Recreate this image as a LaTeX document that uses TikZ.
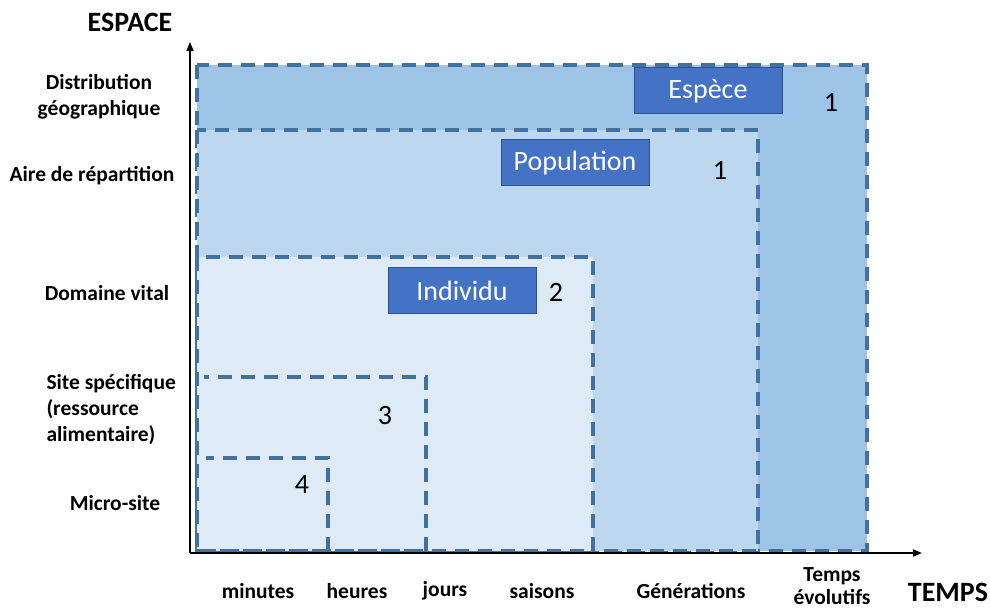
\documentclass[tikz,border=0pt]{standalone}
\usepackage{fontspec}
\setmainfont{Carlito}
\usetikzlibrary{arrows.meta}

\definecolor{fondespece}{HTML}{9DC3E6}
\definecolor{fondpop}{HTML}{BDD7EE}
\definecolor{fondindiv}{HTML}{DEEBF7}
\definecolor{bordure}{HTML}{41719C}
\definecolor{boite}{HTML}{4472C4}
\definecolor{boitebord}{HTML}{2F528F}

\tikzset{
  zone/.style={draw=bordure, line width=3.5pt, dash pattern=on 14pt off 9pt},
  etiquette/.style={fill=boite, draw=boitebord, line width=1pt, text=white,
    font=\fontsize{28}{32}\selectfont, minimum width=148pt, minimum height=46pt},
  echelle/.style={font=\bfseries\fontsize{21.5}{26}\selectfont, align=center},
  titre/.style={font=\bfseries\fontsize{28}{32}\selectfont},
  numero/.style={font=\fontsize{28}{32}\selectfont}
}

\begin{document}
\begin{tikzpicture}[x=1pt,y=-1pt]
  \useasboundingbox (0,0) rectangle (990,609);

  % zones emboitees
  \filldraw[zone, fill=fondespece] (197,65) rectangle (867,551);
  \filldraw[zone, fill=fondpop] (197,130) rectangle (758,551);
  \filldraw[zone, fill=fondindiv] (197,257) rectangle (593,551);
  \draw[zone] (426,551) -- (426,377) -- (204,377);
  \draw[zone] (328,551) -- (328,458) -- (206,458);
  \draw[zone] (197,551) -- (426,551);

  % axes
  \coordinate (origine) at (190,553);
  \coordinate (haut) at (190,42);
  \coordinate (droite) at (922,553);
  \draw[line width=1.8pt, -{Triangle[length=9pt,width=7pt]}] (origine) -- (haut);
  \draw[line width=1.8pt, -{Triangle[length=9pt,width=7pt]}] (origine) -- (droite);

  % etiquettes des niveaux
  \node[etiquette] (espece) at (708,91) {Espèce};
  \node[etiquette] (population) at (575,163) {Population};
  \node[etiquette] (individu) at (462,291) {Individu};

  \node[numero] (n1) at (831,102) {1};
  \node[numero] (n1b) at (720,170) {1};
  \node[numero] (n2) at (556,292) {2};
  \node[numero] (n3) at (385,416) {3};
  \node[numero] (n4) at (302,485) {4};

  % echelle d'espace
  \node[titre] (espace) at (130,22) {ESPACE};
  \node[echelle] (distrib) at (99,97) {Distribution\\géographique};
  \node[echelle] (aire) at (92,176) {Aire de répartition};
  \node[echelle] (domaine) at (107,293) {Domaine vital};
  \node[echelle, align=left, anchor=west] (site) at (43,410) {Site spécifique\\(ressource\\alimentaire)};
  \node[echelle] (micro) at (115,503) {Micro-site};

  % echelle de temps
  \node[titre] (temps) at (948,592) {TEMPS};
  \node[echelle] (minutes) at (258,591) {minutes};
  \node[echelle] (heures) at (357,591) {heures};
  \node[echelle] (jours) at (445,591) {jours};
  \node[echelle] (saisons) at (542,591) {saisons};
  \node[echelle] (generations) at (691,591) {Générations};
  \node[echelle, font=\bfseries\fontsize{21.5}{23}\selectfont] (evolutifs) at (832,586) {Temps\\évolutifs};
\end{tikzpicture}
\end{document}
